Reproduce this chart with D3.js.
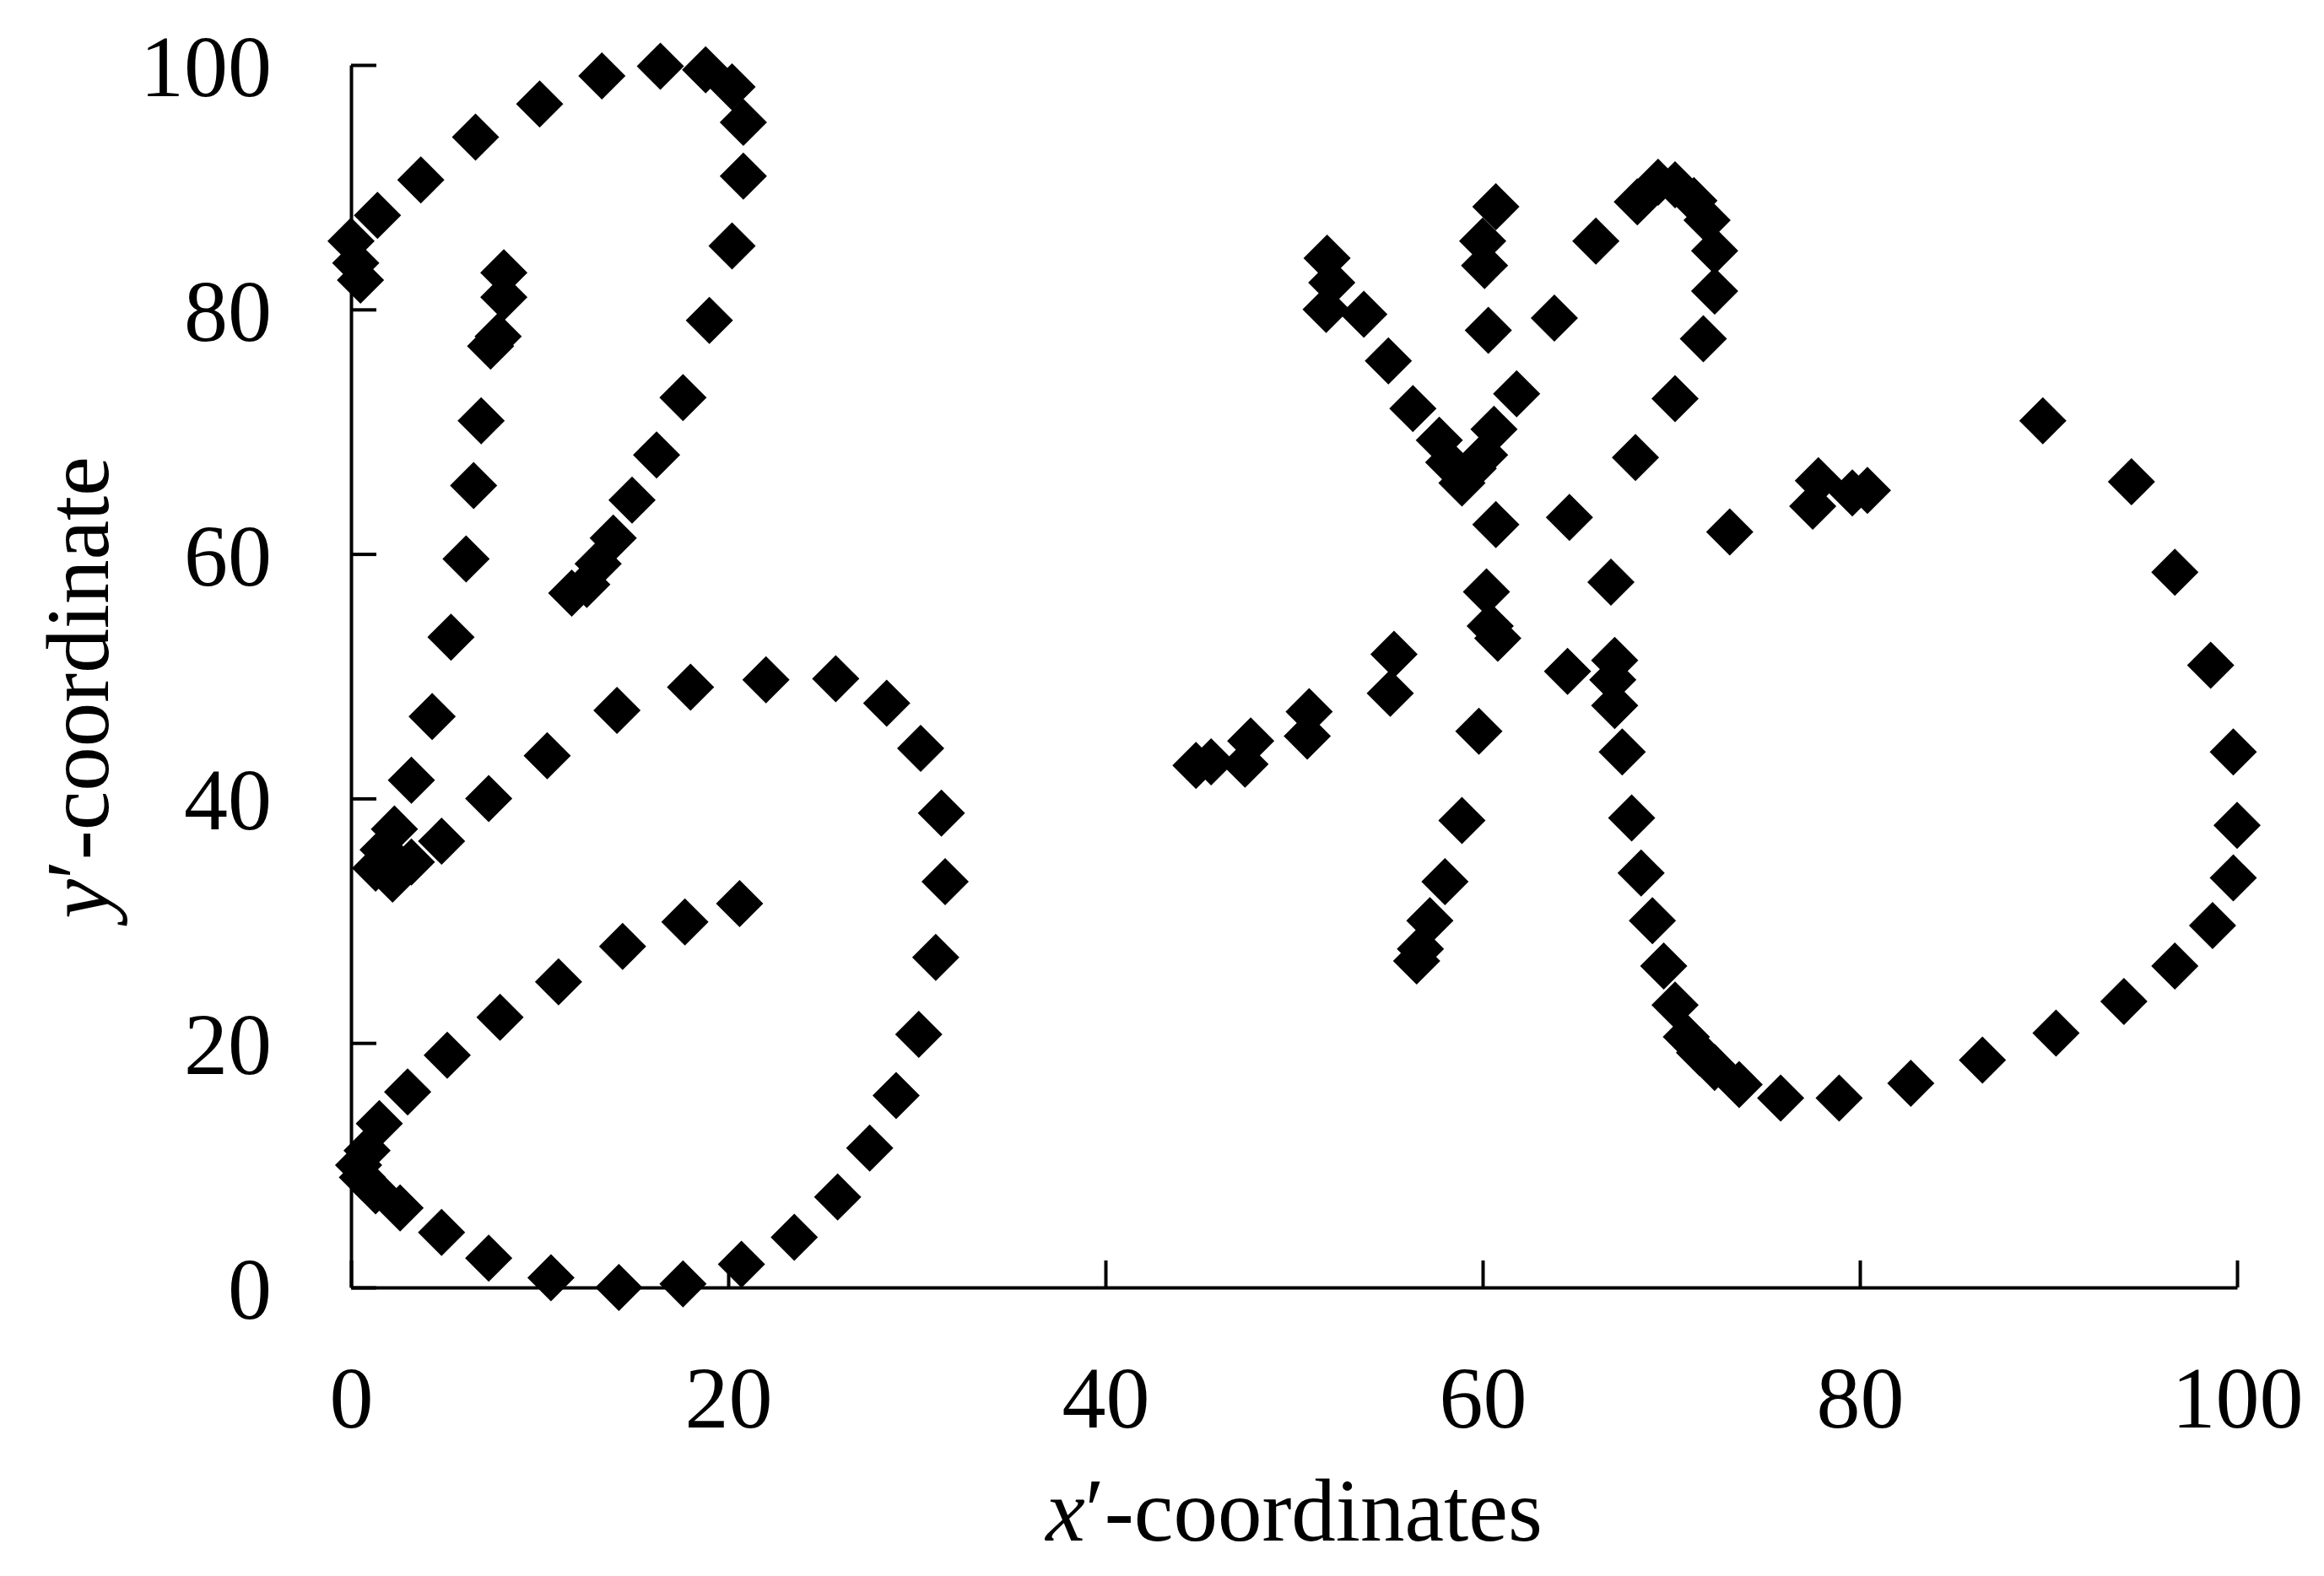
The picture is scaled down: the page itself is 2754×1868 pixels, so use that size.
<!DOCTYPE html>
<html>
<head>
<meta charset="utf-8">
<script src="https://cdn.jsdelivr.net/npm/d3@7"></script>
<style>
  body { margin: 0; background: white; }
  svg text { font-family: "Liberation Serif", "Times New Roman", serif; fill: black; }
</style>
</head>
<body>
<svg id="chart" width="2754" height="1868"></svg>
<script>

// points, [x', y']
const leftGlyph = [
    [0.0, 85.6], [0.25, 83.8], [0.5, 82.4], [1.4, 87.7], [3.7, 90.6], [6.6, 94.1],
    [10.0, 96.8], [13.3, 99.1], [16.4, 99.9], [18.8, 99.6], [20.2, 98.2], [20.8, 95.3],
    [20.8, 90.9], [20.2, 85.2], [19.0, 79.1], [17.6, 72.8], [16.2, 68.1], [14.9, 64.4],
    [13.9, 61.3], [13.1, 59.2], [12.5, 57.5], [11.7, 56.8],
    [8.1, 83.0], [8.1, 81.0], [7.8, 77.8], [7.4, 77.0], [6.9, 70.9], [6.5, 65.6],
    [6.1, 59.6], [5.3, 53.2], [4.3, 46.7], [3.2, 41.5],
    [2.3, 37.5], [1.7, 35.8], [1.3, 34.3], [2.2, 33.4], [3.2, 34.8],
    [4.8, 36.5], [7.3, 40.0], [10.4, 43.5], [14.1, 47.2], [18.0, 49.1], [22.0, 49.7],
    [25.7, 49.8], [28.4, 47.8], [30.2, 44.1], [31.3, 38.8], [31.5, 33.2], [31.0, 27.0],
    [30.1, 20.7], [28.9, 15.7], [27.5, 11.4], [25.8, 7.4], [23.5, 4.1], [20.7, 1.9],
    [17.6, 0.3], [14.2, 0.0], [10.6, 0.8], [7.3, 2.4], [4.8, 4.5], [2.6, 6.5],
    [1.3, 7.9], [0.6, 9.0], [0.4, 10.0], [0.85, 11.2], [1.5, 13.4], [3.0, 16.0],
    [5.1, 19.0], [7.9, 22.1], [11.0, 25.0], [14.4, 27.9], [17.7, 29.9], [20.6, 31.4]
];

const rightGlyph = [
    [51.75, 84.2], [52.0, 82.2], [51.7, 80.0], [53.7, 79.6], [55.0, 75.8], [56.3, 71.9],
    [57.7, 69.3], [58.2, 67.5], [58.9, 65.8], [59.5, 67.0], [60.1, 68.1], [60.6, 70.2],
    [61.8, 73.1], [63.8, 79.3], [66.0, 85.6],
    [60.7, 88.4], [60.0, 85.6], [60.1, 83.6], [60.3, 78.3], [60.7, 62.4], [60.2, 56.9],
    [60.4, 54.1], [60.8, 53.1], [59.8, 45.5], [58.9, 38.2], [58.0, 33.2], [57.2, 30.0],
    [56.7, 27.7], [56.5, 26.7],
    [44.8, 42.7], [45.6, 43.0], [47.4, 42.8], [47.7, 44.7], [50.7, 45.1], [50.8, 47.1],
    [55.1, 48.6], [55.3, 51.8], [64.5, 50.4], [64.6, 63.0], [66.8, 57.7],
    [67.0, 51.3], [66.9, 49.7], [67.0, 47.6], [67.4, 43.8], [67.9, 38.4], [68.4, 33.9],
    [69.0, 30.0], [69.6, 26.3], [70.2, 23.1], [70.8, 20.5], [71.5, 19.2], [72.3, 18.0],
    [73.6, 16.6], [75.8, 15.5], [78.9, 15.5], [82.7, 16.7], [86.5, 18.6], [90.4, 20.8],
    [94.0, 23.4], [96.7, 26.3], [98.7, 29.6], [99.8, 33.5], [100.0, 37.8], [99.8, 43.8],
    [98.6, 50.9], [96.7, 58.5], [94.4, 65.9], [89.7, 70.9],
    [68.2, 88.8], [69.3, 90.4], [70.2, 90.2], [71.2, 88.9], [71.9, 87.3], [72.3, 84.8],
    [72.3, 81.5], [71.7, 77.6], [70.2, 72.7], [68.1, 67.9],
    [73.1, 61.8], [77.8, 66.0], [77.5, 63.9], [79.6, 65.0], [80.4, 65.2]
];

const xTicks = [0, 20, 40, 60, 80, 100];
const yTicks = [0, 20, 40, 60, 80, 100];

const xTitle = "-coordinates";
const yTitle = "-coordinate";

const margin = {left: 416, top: 77, right: 103, bottom: 342};
const svg = d3.select("#chart");
const width = +svg.attr("width") - margin.left - margin.right;
const height = +svg.attr("height") - margin.top - margin.bottom;

const gmain = svg.append("g")
    .attr("transform", "translate(" + margin.left + "," + margin.top + ")");

////////  Axes /////////////

const xAxis = d3.scaleLinear().domain([0, 100]).range([0, width]);
const yAxis = d3.scaleLinear().domain([0, 100]).range([height, 0]);

const gx = gmain.append("g")
    .attr("transform", "translate(0," + height + ")")
    .call(d3.axisBottom(xAxis).tickValues(xTicks).tickSize(-32).tickSizeOuter(0).tickPadding(92));
const gy = gmain.append("g")
    .call(d3.axisLeft(yAxis).tickValues(yTicks).tickSize(-30).tickSizeOuter(0).tickPadding(94));

[gx, gy].forEach(g => {
    g.attr("font-family", null).attr("font-size", 104);
    g.selectAll("path, line").attr("stroke", "black").attr("stroke-width", 4);
});
gy.selectAll("text").attr("dy", "0.35em");

// axis titles, italic primed variable first
const xt = gmain.append("text")
    .attr("x", width / 2)
    .attr("y", height + 300)
    .attr("text-anchor", "middle")
    .attr("font-size", 105);
xt.append("tspan").attr("font-style", "italic").text("x");
xt.append("tspan").text("\u2032" + xTitle);

const yt = gmain.append("text")
    .attr("transform", "translate(" + (128 - margin.left) + "," + (815 - margin.top) + ") rotate(-90)")
    .attr("text-anchor", "middle")
    .attr("font-size", 105);
yt.append("tspan").attr("font-style", "italic").text("y");
yt.append("tspan").text("\u2032" + yTitle);

//////// Scatter ///////////////

const diamond = d3.symbol().type(d3.symbolSquare).size(1568);
const points = leftGlyph.concat(rightGlyph);

gmain.append("g")
    .selectAll("path")
    .data(points)
    .join("path")
    .attr("d", diamond)
    .attr("transform", d => "translate(" + xAxis(d[0]) + "," + yAxis(d[1]) + ") rotate(45)")
    .attr("fill", "black");

</script>
</body>
</html>
